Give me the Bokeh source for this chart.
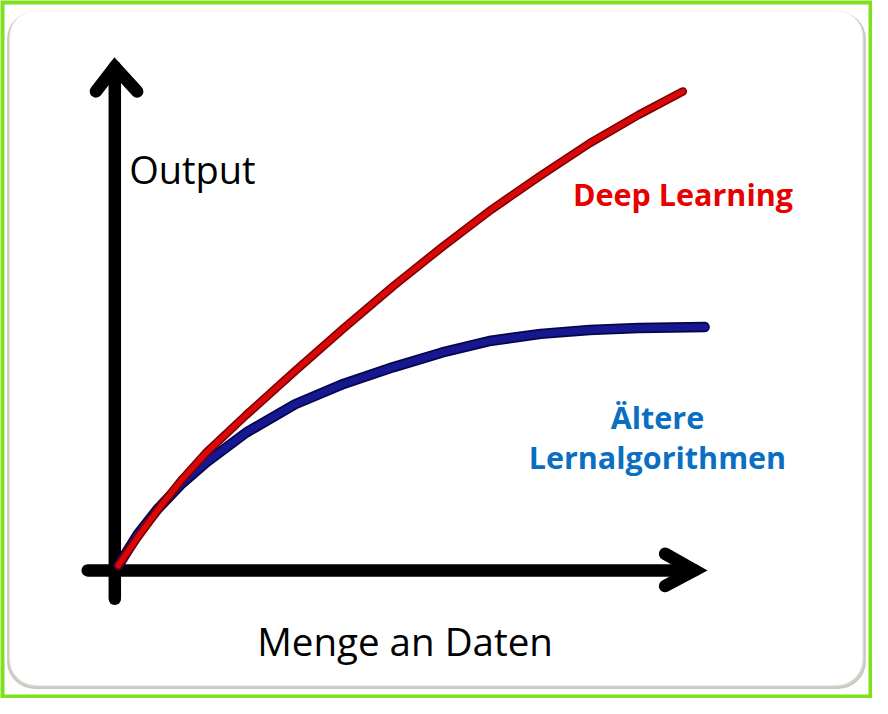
from bokeh.plotting import figure
from bokeh.models import Range1d
from bokeh.core.properties import value
from bokeh.embed import file_html
from bokeh.resources import INLINE

# ---- data (conceptual units: amount of data -> output) ----
deep_x = [0.0, 0.33, 0.67, 1.08, 1.5, 2.17, 3.0, 3.83, 4.67, 5.5, 6.33, 7.17, 8.0, 8.83, 9.58]
deep_y = [0.0, 0.58, 1.14, 1.76, 2.32, 3.08, 3.98, 4.86, 5.72, 6.52, 7.28, 7.98, 8.64, 9.22, 9.7]

old_x = [0.0, 0.33, 0.67, 1.08, 1.5, 2.17, 3.0, 3.83, 4.67, 5.5, 6.33, 7.17, 8.0, 8.83, 9.95]
old_y = [0.0, 0.64, 1.16, 1.68, 2.12, 2.72, 3.3, 3.72, 4.06, 4.36, 4.6, 4.74, 4.82, 4.86, 4.88]

x_label = "Menge an Daten"
y_label = "Output"
deep_label = "Deep Learning"
old_label = ["Ältere", "Lernalgorithmen"]

# ---- geometry: reference-picture pixels <-> data units ----
PX_X, PX_Y = 60.0, 50.0          # pixels per unit
OX, OY = 120.0, 578.0            # picture position of the origin
REF_W, REF_H = 888, 714          # the picture that the figure spans
W, H = 872, 698                  # figure size (fits the window)


def dx(sx):
    return (sx - OX) / PX_X


def dy(sy):
    return (OY - sy) / PX_Y


p = figure(width=W, height=H, output_backend="svg", toolbar_location=None,
           x_range=Range1d(dx(0), dx(REF_W)),
           y_range=Range1d(dy(REF_H), dy(0)),
           x_axis_location=None, y_axis_location=None, min_border=0)
p.grid.visible = False
p.outline_line_color = None
p.background_fill_color = "white"
p.border_fill_color = "white"

# rounded card with soft shadow
p.quad(left=[dx(7.5)], right=[dx(880.5)], top=[dy(12)], bottom=[dy(703.5)],
       fill_color="#cfcfc8", line_color="#c8c8c0", line_width=1.5, border_radius=27)
p.quad(left=[dx(9.5)], right=[dx(878)], top=[dy(10.5)], bottom=[dy(700.5)],
       fill_color="white", line_color="#f0f0ec", line_width=1, border_radius=26)

# green outer frame
p.quad(left=[dx(0)], right=[dx(REF_W)], top=[dy(0)], bottom=[dy(REF_H)],
       fill_color=None, line_color="#7fe01e", line_width=8)

# axes as thick hand-drawn arrows (in axis units)
AX_W = 12.5
y_axis_x = -0.06
x_axis_y = -0.1
p.line([y_axis_x, y_axis_x], [-0.68, 10.2], line_color="black", line_width=AX_W, line_cap="round")
p.line([-0.38, y_axis_x, 0.32], [9.7, 10.2, 9.7], line_color="black", line_width=AX_W,
       line_cap="round", line_join="miter")
p.line([-0.52, 9.78], [x_axis_y, x_axis_y], line_color="black", line_width=AX_W, line_cap="round")
p.line([9.28, 9.78, 9.28], [0.24, x_axis_y, -0.42], line_color="black", line_width=AX_W,
       line_cap="round", line_join="miter")

# curves
p.line(old_x, old_y, line_color="#06064f", line_width=10.5, line_cap="round", line_join="round")
p.line(old_x, old_y, line_color="#17178f", line_width=7, line_cap="round", line_join="round")
p.line(deep_x, deep_y, line_color="#7a0000", line_width=8.5, line_cap="round", line_join="round")
p.line(deep_x, deep_y, line_color="#d80808", line_width=5.5, line_cap="round", line_join="round")

font = value("Open Sans")
p.text(x=[dx(131)], y=[dy(172)], text=[y_label], text_font=font, text_font_size=value("38px"),
       text_color="black", text_baseline="alphabetic", text_align="left")
p.text(x=[dx(412)], y=[dy(655)], text=[x_label], text_font=font, text_font_size=value("38.5px"),
       text_color="black", text_baseline="alphabetic", text_align="center")
p.text(x=[dx(583)], y=[dy(198)], text=[deep_label], text_font=font, text_font_size=value("30.5px"),
       text_font_style="bold", text_color="#e60000", text_baseline="alphabetic", text_align="left")
p.text(x=[dx(669), dx(669)], y=[dy(426), dy(467)], text=old_label, text_font=font,
       text_font_size=value("30.5px"), text_font_style="bold", text_color="#0a6fc2",
       text_baseline="alphabetic", text_align="center")

open("out.html", "w").write(file_html(p, INLINE))
